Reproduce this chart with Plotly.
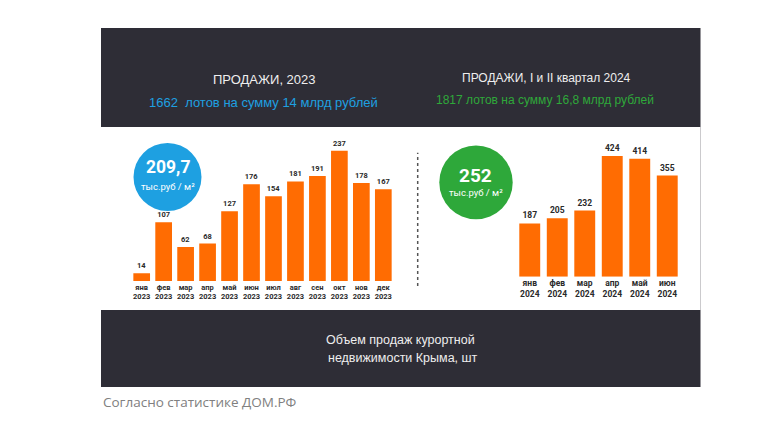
import plotly.graph_objects as go

W, H = 761, 424

months_2023 = ["янв", "фев", "мар", "апр", "май", "июн", "июл", "авг", "сен", "окт", "нов", "дек"]
sales_2023 = [14, 107, 62, 68, 127, 176, 154, 181, 191, 237, 178, 167]
months_2024 = ["янв", "фев", "мар", "апр", "май", "июн"]
sales_2024 = [187, 205, 232, 424, 414, 355]

price_2023 = "209,7"
price_2024 = "252"
price_unit = "тыс.руб / м²"

title_2023 = "ПРОДАЖИ, 2023"
sub_2023 = "1662  лотов на сумму 14 млрд рублей"
title_2024 = "ПРОДАЖИ, I и II квартал 2024"
sub_2024 = "1817 лотов на сумму 16,8 млрд рублей"
footer = ["Объем продаж курортной", "недвижимости Крыма, шт"]
source = "Согласно статистике ДОМ.РФ"

DARK = "#2e2d36"
ORANGE = "#ff6c02"
BLUE = "#1ea0e1"
GREEN = "#2ea83a"
FONT = "Liberation Sans, Arial, sans-serif"


def px(x):
    return x / W


def py(y):
    return 1 - y / H


fig = go.Figure()

fig.add_trace(go.Bar(
    x=[f"{m}<br>2023" for m in months_2023], y=sales_2023,
    marker=dict(color=ORANGE, line=dict(width=0)),
    text=sales_2023, textposition="outside", cliponaxis=False,
    textfont=dict(size=7.5, color="#2a2a2a", family="Roboto, sans-serif", weight="bold"),
    xaxis="x", yaxis="y", hoverinfo="x+y",
))
fig.add_trace(go.Bar(
    x=[f"{m}<br>2024" for m in months_2024], y=sales_2024,
    marker=dict(color=ORANGE, line=dict(width=0)),
    text=sales_2024, textposition="outside", cliponaxis=False,
    textfont=dict(size=8.5, color="#2a2a2a", family="Roboto, sans-serif", weight="bold"),
    xaxis="x2", yaxis="y2", hoverinfo="x+y",
))

axis_common = dict(showgrid=False, zeroline=False, showline=False, ticks="", fixedrange=True)
tick_font = dict(family="Roboto, sans-serif", color="#2a2a2a", weight="bold")

fig.update_layout(
    width=W, height=H,
    margin=dict(l=0, r=0, t=0, b=0),
    paper_bgcolor="white", plot_bgcolor="rgba(0,0,0,0)",
    showlegend=False, bargap=0.24,
    xaxis=dict(domain=[px(130.7), px(394.3)], anchor="y",
               tickfont=dict(size=7.5, **tick_font), **axis_common),
    yaxis=dict(domain=[py(281), py(143.5)], range=[0, 250], anchor="x",
               showticklabels=False, **axis_common),
    xaxis2=dict(domain=[px(516), px(681)], anchor="y2",
                tickfont=dict(size=8.5, **tick_font), **axis_common),
    yaxis2=dict(domain=[py(276.7), py(148.5)], range=[0, 450], anchor="x2",
                showticklabels=False, **axis_common),
)

shapes = [
    # dark card with white middle band
    dict(type="rect", xref="paper", yref="paper", x0=px(101), x1=px(700.5), y0=py(387), y1=py(28),
         fillcolor=DARK, line=dict(width=0), layer="below"),
    dict(type="rect", xref="paper", yref="paper", x0=px(101), x1=px(700.5), y0=py(310), y1=py(127),
         fillcolor="white", line=dict(width=0), layer="below"),
    # dotted divider
    dict(type="line", xref="paper", yref="paper", x0=px(417.7), x1=px(417.7), y0=py(286), y1=py(152.7),
         line=dict(color="#555555", width=1.5, dash="dot")),
    # price circles
    dict(type="circle", xref="paper", yref="paper", x0=px(133.5), x1=px(201.5), y0=py(211), y1=py(143),
         fillcolor=BLUE, line=dict(width=0)),
    dict(type="circle", xref="paper", yref="paper", x0=px(439.3), x1=px(512.7), y0=py(219.3), y1=py(145.5),
         fillcolor=GREEN, line=dict(width=0)),
]
fig.update_layout(shapes=shapes)


def note(text, x, y, size, color, bold=False, family=FONT, xanchor="center"):
    fig.add_annotation(text=text, x=px(x), y=py(y), xref="paper", yref="paper",
                       xanchor=xanchor, yanchor="middle", showarrow=False,
                       font=dict(size=size, color=color, family=family,
                                 weight="bold" if bold else "normal"))


note(title_2023, 264, 80, 13, "#eeeeee")
note(sub_2023, 263, 102, 13, BLUE)
note(title_2024, 546, 78, 12, "#eeeeee")
note(sub_2024, 545, 100, 12, GREEN)

note(price_2023, 167.5, 167, 17.5, "white", bold=True, family="Roboto, sans-serif")
note(price_unit, 167.5, 186.5, 9.5, "white", family="Roboto, sans-serif")
note(price_2024, 476, 175, 19, "white", bold=True, family="Roboto, sans-serif")
note(price_unit, 476, 192.5, 9.5, "white", family="Roboto, sans-serif")

note(footer[0], 400, 340, 12.5, "#eeeeee")
note(footer[1], 402.5, 357.5, 12.5, "#eeeeee")
note(source, 101, 402, 13.5, "#808080", family="Open Sans, sans-serif", xanchor="left")

# the page body has a default 8px margin; drop it so the figure sits at the window origin
fig.write_html("out.html", config={"displayModeBar": False},
               post_script="document.body.style.margin = '0';")
